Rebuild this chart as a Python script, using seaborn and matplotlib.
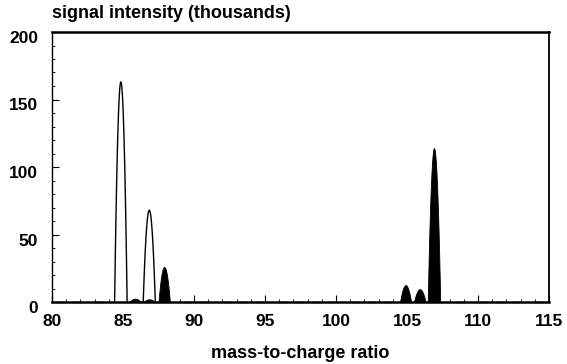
import numpy as np
import pandas as pd
import matplotlib
matplotlib.use("Agg")
import matplotlib.pyplot as plt
import matplotlib.transforms as mtransforms
import seaborn as sns

# Peak table: centre (m/z), height (thousands), base width (m/z units)
open_centers = [84.85, 86.85]
open_heights = [163, 68]
open_widths = [0.88, 0.85]

filled_centers = [85.85, 86.85, 87.9, 104.9, 105.9, 106.9]
filled_heights = [2.5, 2.0, 26, 12.5, 9.5, 114]
filled_widths = [0.80, 0.80, 0.80, 0.78, 0.82, 0.88]

x_ticks = [80, 85, 90, 95, 100, 105, 110, 115]
y_ticks = [0, 50, 100, 150, 200]

SHAPE = 1.0  # peak profile exponent


def profile(center, height, width, n=120):
    u = np.linspace(-1, 1, n)
    x = center + u * width / 2
    y = height * (1 - u ** 2) ** SHAPE
    return x, y


rows = []
for kind, cs, hs, ws in (("open", open_centers, open_heights, open_widths),
                         ("filled", filled_centers, filled_heights, filled_widths)):
    for i, (c, h, w) in enumerate(zip(cs, hs, ws)):
        x, y = profile(c, h, w)
        rows.append(pd.DataFrame({"mz": x, "signal": y, "peak": f"{kind}{i}", "kind": kind}))
df = pd.concat(rows, ignore_index=True)

sns.set_theme(style="ticks")
plt.rcParams["font.family"] = ["Liberation Sans", "DejaVu Sans"]
plt.rcParams["text.color"] = "black"
plt.rcParams["axes.labelcolor"] = "black"

fig = plt.figure(figsize=(5.67, 3.64), dpi=100)
ax = fig.add_axes([52 / 567, 1 - 302 / 364, (549 - 52) / 567, (302 - 32) / 364])

# open (outlined) peaks
for pk, g in df[df["kind"] == "open"].groupby("peak"):
    ax.fill_between(g["mz"], 0, g["signal"], color="white", zorder=2)
    sns.lineplot(data=g, x="mz", y="signal", ax=ax, color="black", lw=1.0,
                 sort=False, estimator=None, legend=False, zorder=3)
# filled peaks
for pk, g in df[df["kind"] == "filled"].groupby("peak"):
    ax.fill_between(g["mz"], 0, g["signal"], color="black", lw=0.6, edgecolor="black", zorder=4)

ax.set_xlim(80, 115)
ax.set_ylim(0, 200)
ax.set_xticks(x_ticks)
ax.set_yticks(y_ticks)
ax.set_xticks(np.arange(80, 116, 1), minor=True)
ax.set_yticks(np.arange(0, 201, 10), minor=True)
ax.set_xticklabels([str(v) for v in x_ticks], fontsize=12.5, fontweight="bold")
ax.set_yticklabels([str(v) for v in y_ticks], fontsize=12.5, fontweight="bold")
ax.tick_params(axis="both", which="major", direction="in", length=5, width=0.8,
               colors="black", labelcolor="black", top=False, right=False)
ax.tick_params(axis="both", which="minor", direction="in", length=2.5, width=0.6,
               colors="black", top=False, right=False)
ax.tick_params(axis="x", which="major", pad=9)
ax.tick_params(axis="y", which="major", pad=10)

# y tick labels sit slightly below their ticks
offset = mtransforms.ScaledTranslation(0, -5 / 100, fig.dpi_scale_trans)
for lab in ax.get_yticklabels():
    lab.set_transform(lab.get_transform() + offset)

for side in ("left", "right", "top", "bottom"):
    ax.spines[side].set_visible(True)
    ax.spines[side].set_color("black")
ax.spines["bottom"].set_linewidth(1.8)
ax.spines["top"].set_linewidth(1.8)
ax.spines["left"].set_linewidth(1.0)
ax.spines["right"].set_linewidth(1.3)

ax.set_xlabel("mass-to-charge ratio", fontsize=13, fontweight="bold",
              color="black", labelpad=11)
ax.set_ylabel("")
fig.text(52 / 567, 1 - 14 / 364, "signal intensity (thousands)", fontsize=13,
         fontweight="bold", color="black", ha="left", va="center")

fig.savefig("out.png", dpi=100, facecolor="white")
